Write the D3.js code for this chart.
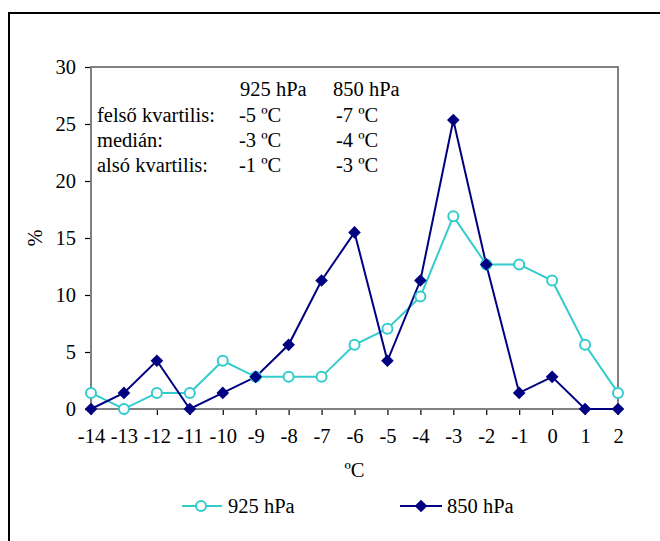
<!DOCTYPE html>
<html>
<head>
<meta charset="utf-8">
<script src="https://cdn.jsdelivr.net/npm/d3@7"></script>
<style>
  html, body { margin: 0; padding: 0; background: #fff; }
  #chart text { font-family: "Times New Roman", "Liberation Serif", Tinos !important; }
</style>
</head>
<body>
<svg id="chart" width="660" height="541"></svg>
<script>
// Temperature classes (ºC)
const temps = [-14, -13, -12, -11, -10, -9, -8, -7, -6, -5, -4, -3, -2, -1, 0, 1, 2];
// Relative frequency (%) at 925 hPa
const p925 = [1.41, 0, 1.41, 1.41, 4.23, 2.82, 2.82, 2.82, 5.63, 7.04, 9.86, 16.90, 12.68, 12.68, 11.27, 5.63, 1.41];
// Relative frequency (%) at 850 hPa
const p850 = [0, 1.41, 4.23, 0, 1.41, 2.82, 5.63, 11.27, 15.49, 4.23, 11.27, 25.35, 12.68, 1.41, 2.82, 0, 0];
const yTicks = [0, 5, 10, 15, 20, 25, 30];
const seriesNames = ["925 hPa", "850 hPa"];
// Quartile summary table
const tableHeader = ["925 hPa", "850 hPa"];
const tableRows = [
  ["felső kvartilis:", "-5 ºC", "-7 ºC"],
  ["medián:", "-3 ºC", "-4 ºC"],
  ["alsó kvartilis:", "-1 ºC", "-3 ºC"]
];

const FONT = '"Times New Roman"';
const FS = "20.5px";
const svg = d3.select("#chart");
const colC = "#33cccc", colN = "#000080";

function styleText(sel) {
  return sel.attr("font-family", "Times New Roman").style("font-family", FONT)
    .style("font-size", FS).style("fill", "#000");
}
function txt(sel, x0, y0, s, anchor) {
  return styleText(sel.append("text").attr("x", x0).attr("y", y0)
    .attr("text-anchor", anchor || "start").text(s));
}

// Outer chart border
svg.append("rect").attr("x", 9).attr("y", 13).attr("width", 660).attr("height", 560)
  .attr("fill", "none").attr("stroke", "#000").attr("stroke-width", 2);

const L = 91, R = 618, T = 67, B = 409;
const x = d3.scaleLinear().domain([-14, 2]).range([L, R]);
const y = d3.scaleLinear().domain([0, 30]).range([B, T]);

// Y axis ticks and labels
const ya = svg.append("g").attr("transform", `translate(${L},0)`)
  .call(d3.axisLeft(y).tickValues(yTicks).tickSize(6).tickPadding(9));
ya.attr("font-family", null).attr("font-size", null);
ya.select(".domain").remove();
ya.selectAll("line").attr("stroke", "#000").attr("stroke-width", 1.2);
styleText(ya.selectAll("text")).attr("dy", "0.34em");

// X axis ticks and labels
const xa = svg.append("g").attr("transform", `translate(0,${B})`)
  .call(d3.axisBottom(x).tickValues(temps).tickFormat(d => d < 0 ? "-" + Math.abs(d) : String(d)).tickSize(6).tickPadding(13));
xa.attr("font-family", null).attr("font-size", null);
xa.select(".domain").remove();
xa.selectAll("line").attr("stroke", "#000").attr("stroke-width", 1.2);
styleText(xa.selectAll("text"));

// Plot frame
svg.append("rect").attr("x", L).attr("y", T).attr("width", R - L).attr("height", B - T)
  .attr("fill", "none").attr("stroke", "#808080").attr("stroke-width", 2);

// Axis titles
styleText(svg.append("text").attr("transform", `translate(42,${(T + B) / 2}) rotate(-90)`)
  .attr("text-anchor", "middle").text("%"));
txt(svg, (L + R) / 2, 477, "ºC", "middle");

// Quartile table
const tbl = svg.append("g");
txt(tbl, 240, 96, tableHeader[0]);
txt(tbl, 333, 96, tableHeader[1]);
tableRows.forEach((r, i) => {
  const by = 122 + i * 25;
  txt(tbl, 97, by, r[0]);
  txt(tbl, 239, by, r[1]);
  txt(tbl, 336, by, r[2]);
});

const line = d3.line().x((d, i) => x(temps[i])).y(d => y(d));
const diamond = d3.symbol().type(d3.symbolSquare).size(80);

// 925 hPa series
svg.append("path").datum(p925).attr("d", line).attr("fill", "none")
  .attr("stroke", colC).attr("stroke-width", 2);
// 850 hPa series
svg.append("path").datum(p850).attr("d", line).attr("fill", "none")
  .attr("stroke", colN).attr("stroke-width", 2);

svg.append("g").selectAll("circle").data(p925).join("circle")
  .attr("cx", (d, i) => x(temps[i])).attr("cy", d => y(d)).attr("r", 5)
  .attr("fill", "#fff").attr("stroke", colC).attr("stroke-width", 2);
svg.append("g").selectAll("path").data(p850).join("path")
  .attr("d", diamond)
  .attr("transform", (d, i) => `translate(${x(temps[i])},${y(d)}) rotate(45)`)
  .attr("fill", colN);

// Legend
const lg = svg.append("g");
lg.append("line").attr("x1", 182).attr("x2", 222).attr("y1", 506).attr("y2", 506)
  .attr("stroke", colC).attr("stroke-width", 2);
lg.append("circle").attr("cx", 201).attr("cy", 506).attr("r", 5)
  .attr("fill", "#fff").attr("stroke", colC).attr("stroke-width", 2);
txt(lg, 228, 513, seriesNames[0]);
lg.append("line").attr("x1", 400).attr("x2", 442).attr("y1", 506).attr("y2", 506)
  .attr("stroke", colN).attr("stroke-width", 2);
lg.append("path").attr("transform", "translate(421,506) rotate(45)")
  .attr("d", diamond).attr("fill", colN);
txt(lg, 447, 513, seriesNames[1]);
</script>
</body>
</html>
